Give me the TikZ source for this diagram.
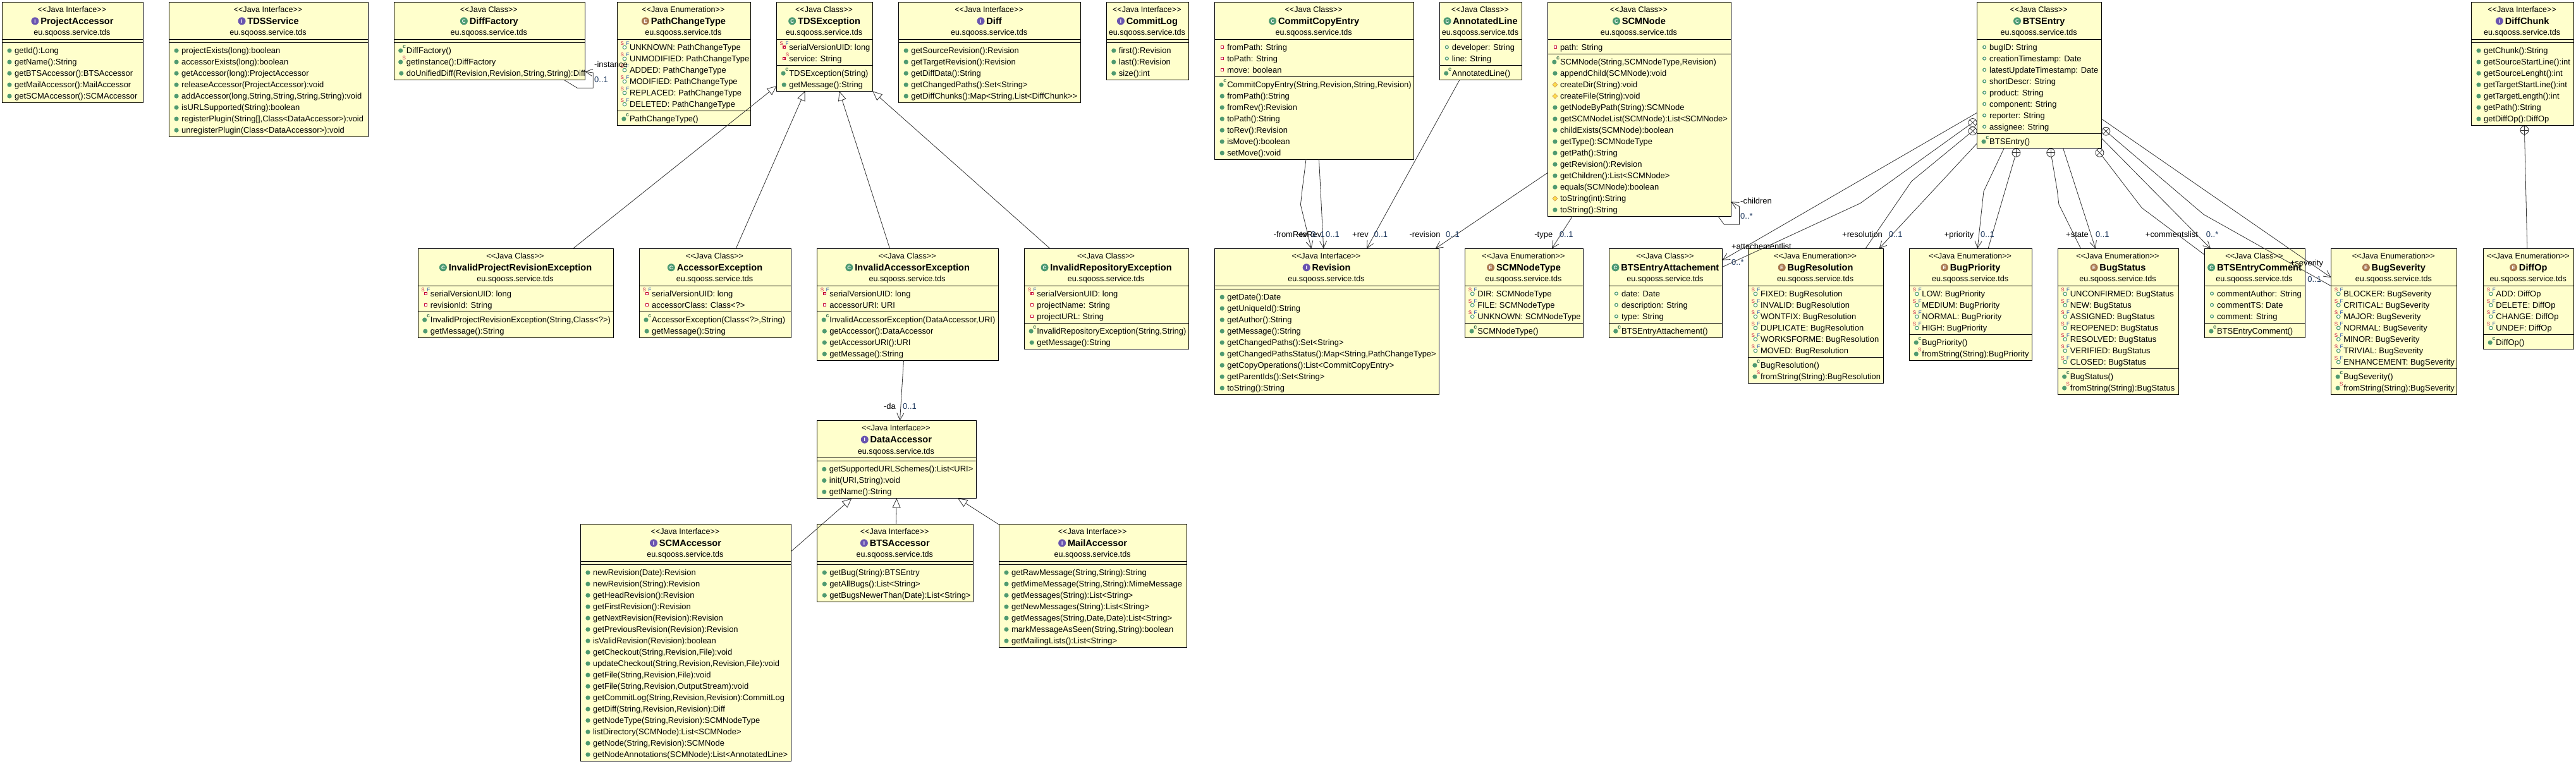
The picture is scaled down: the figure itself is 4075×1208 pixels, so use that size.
\documentclass[tikz,border=0pt]{standalone}
\usepackage{fontspec}
\usetikzlibrary{positioning,arrows.meta}
\newfontfamily\umlfont{Liberation Sans}
\definecolor{umlfill}{HTML}{FFFFCC}
\definecolor{umlgreen}{HTML}{4F9A70}
\definecolor{umlred}{HTML}{C8103C}
\definecolor{umlblue}{HTML}{2050B0}
\definecolor{umlline}{HTML}{333333}
\definecolor{umlmult}{HTML}{203A60}
\definecolor{iconI}{HTML}{6A55B0}
\definecolor{iconC}{HTML}{4C9A72}
\definecolor{iconE}{HTML}{A87850}
\tikzset{
  umlnode/.style={draw=black, fill=umlfill, line width=1pt, inner sep=0pt, outer sep=0pt},
  umlrule/.style={black, line width=1pt},
  typetext/.style={inner sep=0pt, text height=10pt, text depth=3pt, font=\umlfont\fontsize{12.6}{15}\selectfont},
  titletext/.style={inner sep=0pt, text height=11pt, text depth=3pt, font=\umlfont\bfseries\fontsize{14.6}{17}\selectfont},
  umlicon/.style={circle, inner sep=0pt, minimum size=12pt, text=white, font=\umlfont\bfseries\fontsize{8}{8}\selectfont},
  umlrow/.style={anchor=base west, inner sep=0pt, font=\umlfont\fontsize{12.95}{16}\selectfont},
  supletter/.style={inner sep=0pt, font=\umlfont\fontsize{8}{8}\selectfont},
  endlabel/.style={anchor=west, inner sep=0pt, text height=10pt, text depth=3pt, font=\umlfont\fontsize{12.95}{16}\selectfont},
  multlabel/.style={endlabel, text=umlmult},
  assocline/.style={umlline, line width=0.8pt, -{Straight Barb[length=11pt,width=11pt]}},
  genline/.style={umlline, line width=0.8pt, -{Triangle[open,length=15pt,width=13pt,fill=white]}},
  plainline/.style={umlline, line width=0.8pt},
  oplus/.style={circle, draw=umlline, line width=0.8pt, minimum size=13pt, inner sep=0pt,
    path picture={\draw[umlline] (path picture bounding box.north)--(path picture bounding box.south);
      \draw[umlline] (path picture bounding box.west)--(path picture bounding box.east);}},
  ocross/.style={circle, draw=umlline, line width=0.8pt, minimum size=13pt, inner sep=0pt,
    path picture={\draw[umlline] (path picture bounding box.north west)--(path picture bounding box.south east);
      \draw[umlline] (path picture bounding box.south west)--(path picture bounding box.north east);}}
}
% box: id, left, right, top, attributes, methods, kind, icon, name
\newcommand{\umlbox}[9]{%
  \def\boxid{#1}\def\boxleft{#2}\def\rownum{0}%
  \pgfmathsetmacro\boxmid{(#2+#3)/2}%
  \pgfmathsetmacro\boxbot{#4+59+18*#5+5+18*#6+5}%
  \pgfmathsetmacro\boxw{#3-#2}%
  \pgfmathsetmacro\boxh{\boxbot-#4}%
  \pgfmathsetmacro\cury{#4+59+3.3}%
  \node[umlnode, minimum width=\boxw pt, minimum height=\boxh pt] (#1) at (\boxmid,{(#4+\boxbot)/2}) {};
  \node[typetext] (#1-type) at ({\boxmid-1},{#4+12.7}) {<<Java #7>>};
  \node[titletext] (#1-title) at ({\boxmid+7},{#4+31.2}) {#9};
  \node[umlicon, fill=icon#8, left=2.5pt of #1-title, yshift=1.2pt] (#1-icon) {#8};
  \node[typetext] (#1-pkg) at ({\boxmid-1},{#4+49}) {eu.sqooss.service.tds};
  \draw[umlrule] (#2,{#4+59}) -- (#3,{#4+59});
  \def\boxright{#3}%
}
\newcommand{\umlsep}{%
  \pgfmathsetmacro\cury{\cury+1.7}%
  \draw[umlrule] (\boxleft,\cury) -- (\boxright,\cury);
  \pgfmathsetmacro\cury{\cury+3.3}%
}
\newcommand{\rowtext}[1]{%
  \pgfmathtruncatemacro\rownum{\rownum+1}%
  \pgfmathsetmacro\rowy{\cury+9}%
  \node[umlrow] (\boxid-r\rownum) at ({\boxleft+19.4},{\rowy+4.5}) {#1};
  \pgfmathsetmacro\cury{\cury+18}%
}
\newcommand{\letterS}{\node[supletter, text=umlred] (\boxid-r\rownum-s) at ({\boxleft+7.7},{\rowy-5.6}) {S};}
\newcommand{\letterF}{\node[supletter, text=umlblue] (\boxid-r\rownum-f) at ({\boxleft+16.4},{\rowy-6}) {F};}
\newcommand{\mpub}[1]{\rowtext{#1}\fill[umlgreen] ({\boxleft+11.5},{\rowy+0.5}) circle (3.6);}
\newcommand{\mctor}[1]{\rowtext{#1}\fill[umlgreen] ({\boxleft+10.4},{\rowy+0.5}) circle (3.6);
  \node[supletter, text=umlgreen!70!black, font=\umlfont\bfseries\fontsize{9}{9}\selectfont] (\boxid-r\rownum-c) at ({\boxleft+16.2},{\rowy-5.8}) {c};}
\newcommand{\mstat}[1]{\rowtext{#1}\fill[umlgreen] ({\boxleft+10.4},{\rowy+0.5}) circle (3.6);
  \node[supletter, text=umlred] (\boxid-r\rownum-s) at ({\boxleft+16},{\rowy-6}) {S};}
\newcommand{\mprot}[1]{\rowtext{#1}\draw[fill=yellow!70!orange!70, draw=orange!70!black!70, line width=0.6pt]
  ({\boxleft+11.5-4},{\rowy+0.5}) -- ({\boxleft+11.5},{\rowy-3.5}) -- ({\boxleft+11.5+4},{\rowy+0.5}) -- ({\boxleft+11.5},{\rowy+4.5}) -- cycle;}
\newcommand{\apub}[1]{\rowtext{#1}\draw[umlgreen, fill=white, line width=1.3pt] ({\boxleft+11.5},\rowy) circle (2.4);}
\newcommand{\apriv}[1]{\rowtext{#1}\draw[umlred, fill=white, line width=1.3pt] ({\boxleft+10},{\rowy-2.3}) rectangle ({\boxleft+14},{\rowy+1.7});}
\newcommand{\asfin}[1]{\rowtext{#1}\draw[umlred, fill=white, line width=1.2pt] ({\boxleft+10.2},{\rowy-1.7}) rectangle ({\boxleft+14},{\rowy+2.1});\letterS\letterF}
\newcommand{\aspriv}[1]{\rowtext{#1}\draw[umlred, fill=white, line width=1.2pt] ({\boxleft+9.5},{\rowy-1.7}) rectangle ({\boxleft+13.3},{\rowy+2.1});
  \node[supletter, text=umlred] (\boxid-r\rownum-s) at ({\boxleft+16.9},{\rowy-6}) {S};}
\newcommand{\aconst}[1]{\rowtext{#1}\draw[umlgreen, fill=white, line width=1.1pt] ({\boxleft+11.5},{\rowy+0.4}) circle (2.8);\letterS\letterF}
\begin{document}
\begin{tikzpicture}[x=1pt,y=-1pt]
  \useasboundingbox (0,0) rectangle (4075,1208);

  \umlbox{pacc}{3.5}{226.3}{3.3}{0}{5}{Interface}{I}{ProjectAccessor}
  \umlsep
  \mpub{getId():Long}
  \mpub{getName():String}
  \mpub{getBTSAccessor():BTSAccessor}
  \mpub{getMailAccessor():MailAccessor}
  \mpub{getSCMAccessor():SCMAccessor}

  \umlbox{tdss}{267.6}{582.5}{3.3}{0}{8}{Interface}{I}{TDSService}
  \umlsep
  \mpub{projectExists(long):boolean}
  \mpub{accessorExists(long):boolean}
  \mpub{getAccessor(long):ProjectAccessor}
  \mpub{releaseAccessor(ProjectAccessor):void}
  \mpub{addAccessor(long,String,String,String,String):void}
  \mpub{isURLSupported(String):boolean}
  \mpub{registerPlugin(String[],Class<DataAccessor>):void}
  \mpub{unregisterPlugin(Class<DataAccessor>):void}

  \umlbox{dfac}{623.3}{925.3}{3.3}{0}{3}{Class}{C}{DiffFactory}
  \umlsep
  \mctor{DiffFactory()}
  \mstat{getInstance():DiffFactory}
  \mpub{doUnifiedDiff(Revision,Revision,String,String):Diff}

  \umlbox{pcht}{976.5}{1187.4}{3.3}{6}{1}{Enumeration}{E}{PathChangeType}
  \aconst{UNKNOWN: PathChangeType}
  \aconst{UNMODIFIED: PathChangeType}
  \aconst{ADDED: PathChangeType}
  \aconst{MODIFIED: PathChangeType}
  \aconst{REPLACED: PathChangeType}
  \aconst{DELETED: PathChangeType}
  \umlsep
  \mctor{PathChangeType()}

  \umlbox{tdsx}{1228.7}{1380.4}{3.3}{2}{2}{Class}{C}{TDSException}
  \asfin{serialVersionUID: long}
  \aspriv{service: String}
  \umlsep
  \mctor{TDSException(String)}
  \mpub{getMessage():String}

  \umlbox{diff}{1421.7}{1709.5}{3.3}{0}{5}{Interface}{I}{Diff}
  \umlsep
  \mpub{getSourceRevision():Revision}
  \mpub{getTargetRevision():Revision}
  \mpub{getDiffData():String}
  \mpub{getChangedPaths():Set<String>}
  \mpub{getDiffChunks():Map<String,List<DiffChunk>>}

  \umlbox{clog}{1750.3}{1880.4}{3.3}{0}{3}{Interface}{I}{CommitLog}
  \umlsep
  \mpub{first():Revision}
  \mpub{last():Revision}
  \mpub{size():int}

  \umlbox{cce}{1921.7}{2236.5}{3.3}{3}{7}{Class}{C}{CommitCopyEntry}
  \apriv{fromPath: String}
  \apriv{toPath: String}
  \apriv{move: boolean}
  \umlsep
  \mctor{CommitCopyEntry(String,Revision,String,Revision)}
  \mpub{fromPath():String}
  \mpub{fromRev():Revision}
  \mpub{toPath():String}
  \mpub{toRev():Revision}
  \mpub{isMove():boolean}
  \mpub{setMove():void}

  \umlbox{anno}{2277.3}{2407.7}{3.3}{2}{1}{Class}{C}{AnnotatedLine}
  \apub{developer: String}
  \apub{line: String}
  \umlsep
  \mctor{AnnotatedLine()}

  \umlbox{scmn}{2448.4}{2738.4}{3.3}{1}{14}{Class}{C}{SCMNode}
  \apriv{path: String}
  \umlsep
  \mctor{SCMNode(String,SCMNodeType,Revision)}
  \mpub{appendChild(SCMNode):void}
  \mprot{createDir(String):void}
  \mprot{createFile(String):void}
  \mpub{getNodeByPath(String):SCMNode}
  \mpub{getSCMNodeList(SCMNode):List<SCMNode>}
  \mpub{childExists(SCMNode):boolean}
  \mpub{getType():SCMNodeType}
  \mpub{getPath():String}
  \mpub{getRevision():Revision}
  \mpub{getChildren():List<SCMNode>}
  \mpub{equals(SCMNode):boolean}
  \mprot{toString(int):String}
  \mpub{toString():String}

  \umlbox{btse}{3127.6}{3324.7}{3.3}{8}{1}{Class}{C}{BTSEntry}
  \apub{bugID: String}
  \apub{creationTimestamp: Date}
  \apub{latestUpdateTimestamp: Date}
  \apub{shortDescr: String}
  \apub{product: String}
  \apub{component: String}
  \apub{reporter: String}
  \apub{assignee: String}
  \umlsep
  \mctor{BTSEntry()}

  \umlbox{dchk}{3909.5}{4071.7}{3.3}{0}{7}{Interface}{I}{DiffChunk}
  \umlsep
  \mpub{getChunk():String}
  \mpub{getSourceStartLine():int}
  \mpub{getSourceLenght():int}
  \mpub{getTargetStartLine():int}
  \mpub{getTargetLength():int}
  \mpub{getPath():String}
  \mpub{getDiffOp():DiffOp}

  \umlbox{ipre}{661.3}{970.7}{393.3}{2}{2}{Class}{C}{InvalidProjectRevisionException}
  \asfin{serialVersionUID: long}
  \apriv{revisionId: String}
  \umlsep
  \mctor{InvalidProjectRevisionException(String,Class<?>)}
  \mpub{getMessage():String}

  \umlbox{aexc}{1011.6}{1251.4}{393.3}{2}{2}{Class}{C}{AccessorException}
  \asfin{serialVersionUID: long}
  \apriv{accessorClass: Class<?>}
  \umlsep
  \mctor{AccessorException(Class<?>,String)}
  \mpub{getMessage():String}

  \umlbox{iaex}{1292.8}{1579.5}{393.3}{2}{4}{Class}{C}{InvalidAccessorException}
  \asfin{serialVersionUID: long}
  \apriv{accessorURI: URI}
  \umlsep
  \mctor{InvalidAccessorException(DataAccessor,URI)}
  \mpub{getAccessor():DataAccessor}
  \mpub{getAccessorURI():URI}
  \mpub{getMessage():String}

  \umlbox{irex}{1620.7}{1880.4}{393.3}{3}{2}{Class}{C}{InvalidRepositoryException}
  \asfin{serialVersionUID: long}
  \apriv{projectName: String}
  \apriv{projectURL: String}
  \umlsep
  \mctor{InvalidRepositoryException(String,String)}
  \mpub{getMessage():String}

  \umlbox{revn}{1921.7}{2276.3}{393.3}{0}{9}{Interface}{I}{Revision}
  \umlsep
  \mpub{getDate():Date}
  \mpub{getUniqueId():String}
  \mpub{getAuthor():String}
  \mpub{getMessage():String}
  \mpub{getChangedPaths():Set<String>}
  \mpub{getChangedPathsStatus():Map<String,PathChangeType>}
  \mpub{getCopyOperations():List<CommitCopyEntry>}
  \mpub{getParentIds():Set<String>}
  \mpub{toString():String}

  \umlbox{styp}{2317.7}{2504.2}{393.3}{3}{1}{Enumeration}{E}{SCMNodeType}
  \aconst{DIR: SCMNodeType}
  \aconst{FILE: SCMNodeType}
  \aconst{UNKNOWN: SCMNodeType}
  \umlsep
  \mctor{SCMNodeType()}

  \umlbox{atta}{2545.4}{2724.3}{393.3}{3}{1}{Class}{C}{BTSEntryAttachement}
  \apub{date: Date}
  \apub{description: String}
  \apub{type: String}
  \umlsep
  \mctor{BTSEntryAttachement()}

  \umlbox{bres}{2765.5}{2979.6}{393.3}{6}{2}{Enumeration}{E}{BugResolution}
  \aconst{FIXED: BugResolution}
  \aconst{INVALID: BugResolution}
  \aconst{WONTFIX: BugResolution}
  \aconst{DUPLICATE: BugResolution}
  \aconst{WORKSFORME: BugResolution}
  \aconst{MOVED: BugResolution}
  \umlsep
  \mctor{BugResolution()}
  \mstat{fromString(String):BugResolution}

  \umlbox{bpri}{3020.8}{3214.4}{393.3}{4}{2}{Enumeration}{E}{BugPriority}
  \aconst{LOW: BugPriority}
  \aconst{MEDIUM: BugPriority}
  \aconst{NORMAL: BugPriority}
  \aconst{HIGH: BugPriority}
  \umlsep
  \mctor{BugPriority()}
  \mstat{fromString(String):BugPriority}

  \umlbox{bsta}{3255.2}{3446.7}{393.3}{7}{2}{Enumeration}{E}{BugStatus}
  \aconst{UNCONFIRMED: BugStatus}
  \aconst{NEW: BugStatus}
  \aconst{ASSIGNED: BugStatus}
  \aconst{REOPENED: BugStatus}
  \aconst{RESOLVED: BugStatus}
  \aconst{VERIFIED: BugStatus}
  \aconst{CLOSED: BugStatus}
  \umlsep
  \mctor{BugStatus()}
  \mstat{fromString(String):BugStatus}

  \umlbox{bcom}{3487.5}{3646.4}{393.3}{3}{1}{Class}{C}{BTSEntryComment}
  \apub{commentAuthor: String}
  \apub{commentTS: Date}
  \apub{comment: String}
  \umlsep
  \mctor{BTSEntryComment()}

  \umlbox{bsev}{3687.7}{3886.9}{393.3}{7}{2}{Enumeration}{E}{BugSeverity}
  \aconst{BLOCKER: BugSeverity}
  \aconst{CRITICAL: BugSeverity}
  \aconst{MAJOR: BugSeverity}
  \aconst{NORMAL: BugSeverity}
  \aconst{MINOR: BugSeverity}
  \aconst{TRIVIAL: BugSeverity}
  \aconst{ENHANCEMENT: BugSeverity}
  \umlsep
  \mctor{BugSeverity()}
  \mstat{fromString(String):BugSeverity}

  \umlbox{dfop}{3928.8}{4071.7}{393.3}{4}{1}{Enumeration}{E}{DiffOp}
  \aconst{ADD: DiffOp}
  \aconst{DELETE: DiffOp}
  \aconst{CHANGE: DiffOp}
  \aconst{UNDEF: DiffOp}
  \umlsep
  \mctor{DiffOp()}

  \umlbox{daac}{1292.3}{1544.4}{665.6}{0}{3}{Interface}{I}{DataAccessor}
  \umlsep
  \mpub{getSupportedURLSchemes():List<URI>}
  \mpub{init(URI,String):void}
  \mpub{getName():String}

  \umlbox{scma}{918.5}{1251.4}{829.3}{0}{17}{Interface}{I}{SCMAccessor}
  \umlsep
  \mpub{newRevision(Date):Revision}
  \mpub{newRevision(String):Revision}
  \mpub{getHeadRevision():Revision}
  \mpub{getFirstRevision():Revision}
  \mpub{getNextRevision(Revision):Revision}
  \mpub{getPreviousRevision(Revision):Revision}
  \mpub{isValidRevision(Revision):boolean}
  \mpub{getCheckout(String,Revision,File):void}
  \mpub{updateCheckout(String,Revision,Revision,File):void}
  \mpub{getFile(String,Revision,File):void}
  \mpub{getFile(String,Revision,OutputStream):void}
  \mpub{getCommitLog(String,Revision,Revision):CommitLog}
  \mpub{getDiff(String,Revision,Revision):Diff}
  \mpub{getNodeType(String,Revision):SCMNodeType}
  \mpub{listDirectory(SCMNode):List<SCMNode>}
  \mpub{getNode(String,Revision):SCMNode}
  \mpub{getNodeAnnotations(SCMNode):List<AnnotatedLine>}

  \umlbox{btsa}{1292.8}{1539.7}{829.3}{0}{3}{Interface}{I}{BTSAccessor}
  \umlsep
  \mpub{getBug(String):BTSEntry}
  \mpub{getAllBugs():List<String>}
  \mpub{getBugsNewerThan(Date):List<String>}

  \umlbox{mail}{1580.5}{1877.7}{829.3}{0}{7}{Interface}{I}{MailAccessor}
  \umlsep
  \mpub{getRawMessage(String,String):String}
  \mpub{getMimeMessage(String,String):MimeMessage}
  \mpub{getMessages(String):List<String>}
  \mpub{getNewMessages(String):List<String>}
  \mpub{getMessages(String,Date,Date):List<String>}
  \mpub{markMessageAsSeen(String,String):boolean}
  \mpub{getMailingLists():List<String>}

  % inheritance
  \draw[genline] ([xshift=245.2]ipre.north west) -- ([yshift=8.3]tdsx.south west);
  \draw[genline] ([xshift=152.6]aexc.north west) -- ([xshift=44.8]tdsx.south west);
  \draw[genline] ([xshift=114.8]iaex.north west) -- ([xshift=99]tdsx.south west);
  \draw[genline] ([xshift=40.3]irex.north west) -- (tdsx.south east);
  \draw[genline] ([yshift=-43.4]scma.north east) -- ([xshift=55]daac.south west);
  \draw[genline] ([xshift=124.7]btsa.north west) -- ([xshift=126.1]daac.south west);
  \draw[genline] ([yshift=-1]mail.north west) -- ([xshift=223]daac.south west);

  % associations
  \draw[assocline] ([xshift=268.7]dfac.south west) -- (913.3,139.3) -- (938.2,139.3) -- (938.2,115) -- ([yshift=13]dfac.south east);
  \draw[assocline] ([xshift=136.7]iaex.south west) -- ([xshift=131.2]daac.north west);
  \draw[assocline] ([xshift=144.3]cce.south west) -- (2060,300) -- (2057.4,324) -- ([xshift=152.6]revn.north west);
  \draw[assocline] ([xshift=164.8]cce.south west) -- ([xshift=172]revn.north west);
  \draw[assocline] ([xshift=31.7]anno.south west) -- ([xshift=240.3]revn.north west);
  \draw[assocline] ([yshift=-270]scmn.north west) -- ([xshift=349]revn.north west);
  \draw[assocline] ([xshift=269.4]scmn.south west) -- (2727.5,355.3) -- (2751.4,355.3) -- (2751.4,326.7) -- ([yshift=23]scmn.south east);
  \draw[assocline] ([xshift=39]scmn.south west) -- ([xshift=137.2]styp.north west);
  \draw[assocline] ([yshift=-175]btse.north west) -- ([yshift=-18.4]atta.north east);
  \draw[assocline] ([yshift=-223.4]btse.north west) -- ([xshift=207.1]bres.north west);
  \draw[assocline] ([xshift=42.8]btse.south west) -- (3137.9,303) -- ([xshift=107.4]bpri.north west);
  \draw[assocline] ([xshift=135.9]btse.south west) -- ([xshift=59.6]bsta.north west);
  \draw[assocline] ([yshift=-215.7]btse.north east) -- ([xshift=9.4]bcom.north west);
  \draw[assocline] ([yshift=-185]btse.north east) -- ([yshift=-46]bsev.north west);

  % compositions
  \node[ocross] (cattach) at (3120.6,194) {};
  \node[ocross] (cresol) at (3120.6,207.3) {};
  \node[oplus] (cprio) at (3189.4,241.7) {};
  \node[oplus] (cstate) at (3244.2,241.7) {};
  \node[ocross] (ccomm) at (3321.4,241.7) {};
  \node[ocross] (csever) at (3331.4,207.7) {};
  \node[oplus] (cdiffop) at (3993.4,206) {};
  \draw[plainline] (cattach) -- (2942.7,321.7) -- ([yshift=-29.4]atta.north east);
  \draw[plainline] (cresol) -- (3024,286.7) -- ([xshift=185.5]bres.north west);
  \draw[plainline] (cprio) -- ([xshift=124.2]bpri.north west);
  \draw[plainline] (cstate) -- (3254.1,300) -- (3256.9,323.3) -- ([xshift=36.4]bsta.north west);
  \draw[plainline] (ccomm) -- (3388.2,329) -- ([yshift=-10]bcom.north west);
  \draw[plainline] (csever) -- (3485.8,339.3) -- ([yshift=-59.4]bsev.north west);
  \draw[plainline] (cdiffop) -- ([xshift=69]dfop.north west);

  % end labels
  \node[endlabel] (linst) at (940,102.7) {-instance};
  \node[multlabel] (minst) at (940,127.3) {0..1};
  \node[endlabel, anchor=east] (lda) at (1417,643.8) {-da};
  \node[multlabel] (mda) at (1428,643.8) {0..1};
  \node[endlabel] (lfrom) at (2014.6,371.7) {-fromRev};
  \node[endlabel] (lto) at (2052,371.7) {-toRev};
  \node[multlabel] (mfrom) at (2074,371.7) {0..1};
  \node[multlabel] (mto) at (2097,371.7) {0..1};
  \node[endlabel] (lrev) at (2139,371.7) {+rev};
  \node[multlabel] (mrev) at (2173.3,371.7) {0..1};
  \node[endlabel] (lrevis) at (2229.4,371.7) {-revision};
  \node[multlabel] (mrevis) at (2287,371.7) {0..1};
  \node[endlabel] (lchild) at (2753,318.7) {-children};
  \node[multlabel] (mchild) at (2753,342.7) {0..*};
  \node[endlabel] (ltype) at (2427.2,372) {-type};
  \node[multlabel] (mtype) at (2466.8,372) {0..1};
  \node[endlabel] (lattach) at (2738.9,391.3) {+attachementlist};
  \node[multlabel] (mattach) at (2738.9,416.3) {0..*};
  \node[endlabel] (lresol) at (2914,372) {+resolution};
  \node[multlabel] (mresol) at (2987.7,372) {0..1};
  \node[endlabel] (lprio) at (3075.6,372) {+priority};
  \node[multlabel] (mprio) at (3133,372) {0..1};
  \node[endlabel] (lstate) at (3268,372) {+state};
  \node[multlabel] (mstate) at (3314.8,372) {0..1};
  \node[endlabel] (lcomm) at (3393.7,372) {+commentslist};
  \node[multlabel] (mcomm) at (3489.7,372) {0..*};
  \node[endlabel] (lsever) at (3622.6,417.3) {+severity};
  \node[multlabel] (msever) at (3650.2,442.7) {0..1};
\end{tikzpicture}
\end{document}
